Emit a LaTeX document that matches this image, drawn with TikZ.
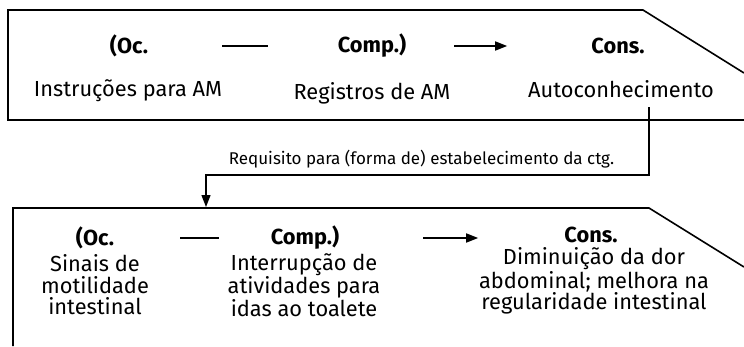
\documentclass[tikz,border=0pt]{standalone}
\usepackage{fontspec}
\setmainfont{Fira Sans}
\usetikzlibrary{arrows.meta}

\begin{document}
\begin{tikzpicture}[x=1pt, y=-1pt,
            txt/.style={font=\fontsize{21.8}{21.5}\selectfont, align=center, inner sep=0pt},
            hd/.style={txt, font=\fontsize{21.8}{21.5}\selectfont\bfseries},
            lbl/.style={font=\fontsize{17}{18}\selectfont, inner sep=0pt},
            frame/.style={line width=1.6pt},
            link/.style={line width=1.6pt},
            ->/.style={-{Triangle[length=12pt, width=9pt]}, line width=1.6pt}]
          \useasboundingbox (0,0) rectangle (744,346);
          % upper contingency
          \draw[frame] (744,120) -- (8,120) -- (8,10) -- (643,10) -- (744,73);
          \node[hd] (oc1) at (129,46) {(Oc.};
          \node[hd] (comp1) at (372,46) {Comp.)};
          \node[hd] (cons1) at (618,46) {Cons.};
          \node[txt] (occ1) at (128,91) {Instruções para AM};
          \node[txt] (cmp1) at (372,93) {Registros de AM};
          \node[txt] (csq1) at (621,89) {Autoconhecimento};
          \draw [link, shorten <=74pt, shorten >=70pt] (oc1) to (comp1);
          \draw [->, shorten <=48pt, shorten >=84pt] (comp1) to (cons1);
          % lower contingency
          \draw[frame] (13,346) -- (13,208) -- (649,208) -- (744,267);
          \node[hd] (oc2) at (95,238) {(Oc.};
          \node[hd] (comp2) at (305,238) {Comp.)};
          \node[hd] (cons2) at (591,235) {Cons.};
          \node[txt] (occ2) at (95,285) {Sinais de\\motilidade\\intestinal};
          \node[txt] (cmp2) at (304,285) {Interrupção de\\atividades para\\idas ao toalete};
          \node[txt] (csq2) at (594,281) {Diminuição da dor\\abdominal; melhora na\\regularidade intestinal};
          \draw [link, shorten <=66pt, shorten >=52pt] (oc2) to (oc2 -| comp2.west);
          \draw [->, shorten <=84pt, shorten >=86pt] (comp2.east) to (comp2.east -| cons2.west);
          % requirement link
          \coordinate (src) at (649,107);
          \coordinate (dst) at (206,207);
          \draw [->, line width=1.3pt] (src) -- ++(0,68) -| node[lbl, pos=0.25, above=6pt, xshift=-6pt] {Requisito para (forma de) estabelecimento da ctg.} (dst);
        \end{tikzpicture}
\end{document}
